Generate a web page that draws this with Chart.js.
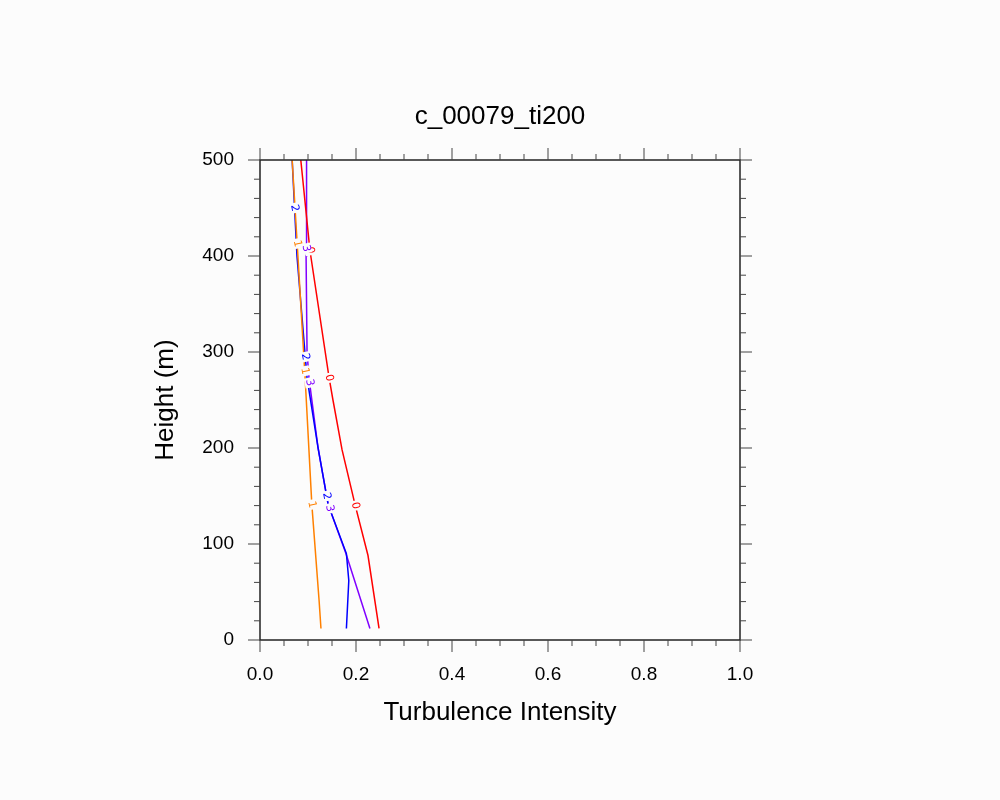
<!DOCTYPE html>
<html><head><meta charset="utf-8">
<script src="https://cdn.jsdelivr.net/npm/chart.js"></script>
<style>html,body{margin:0;background:#fcfcfc}#w{width:1000px;height:800px}</style>
</head><body><div id="w"><canvas id="c"></canvas></div>
<script>
const title = "c_00079_ti200";
const xTitle = "Turbulence Intensity";
const yTitle = "Height (m)";
const xTicks = [0.0,0.2,0.4,0.6,0.8,1.0];
const yTicks = [0,100,200,300,400,500];
const names = ["0","1","2","3"];
const colors = ["#ff0000","#ff8000","#0000ff","#8000ff"];
const heights0 = [12,88,141,198,250,273,406,500];
const ti0 = [0.248,0.225,0.198,0.171,0.152,0.144,0.104,0.085];
const heights1 = [12,42,141,273,400,500];
const ti1 = [0.127,0.123,0.108,0.094,0.079,0.067];
const heights2 = [12,62,90,141,200,273,400,500];
const ti2 = [0.180,0.185,0.180,0.142,0.121,0.098,0.077,0.067];
const heights3 = [12,90,141,200,273,300,400,500];
const ti3 = [0.229,0.179,0.142,0.121,0.102,0.098,0.096,0.097];
const labelHeights = [[140,273,406],[141,280,413],[150,295,450],[137,268,408]];
const H=[heights0,heights1,heights2,heights3], T=[ti0,ti1,ti2,ti3];
function interp(h,hs,ts){for(let i=0;i<hs.length-1;i++){if(h>=hs[i]&&h<=hs[i+1]){const f=(h-hs[i])/(hs[i+1]-hs[i]);return ts[i]+f*(ts[i+1]-ts[i]);}}return ts[ts.length-1];}
const datasets = names.map((n,i)=>({label:n,data:H[i].map((h,j)=>({x:T[i][j],y:h})),borderColor:colors[i],borderWidth:1.5,pointRadius:0,fill:false,tension:0}));
const deco = {id:'deco',afterDraw(ch){
 const c=ch.ctx,a=ch.chartArea,xs=ch.scales.x,ys=ch.scales.y;
 c.save();
 c.font='11px "DejaVu Sans"';c.textAlign='center';c.textBaseline='middle';
 names.forEach((n,i)=>labelHeights[i].forEach(h=>{const px=xs.getPixelForValue(interp(h,H[i],T[i]));const py=ys.getPixelForValue(h);
  c.save();c.translate(px,py);c.rotate(Math.PI/2-0.2);c.fillStyle='#fcfcfc';c.fillRect(-5,-5,10,10);c.fillStyle=colors[i];c.fillText(n,0,0);c.restore();}));
 c.strokeStyle='#222';c.lineWidth=1.5;c.strokeRect(a.left,a.top,a.right-a.left,a.bottom-a.top);
 c.lineWidth=1;c.strokeStyle='#444';
 for(let v=0;v<=1.0001;v+=0.05){const p=xs.getPixelForValue(v);const L=(Math.round(v*100)%20===0)?12:6;
  c.beginPath();c.moveTo(p,a.bottom);c.lineTo(p,a.bottom+L);c.moveTo(p,a.top);c.lineTo(p,a.top-L);c.stroke();}
 for(let v=0;v<=500;v+=20){const p=ys.getPixelForValue(v);const L=(v%100===0)?12:6;
  c.beginPath();c.moveTo(a.left,p);c.lineTo(a.left-L,p);c.moveTo(a.right,p);c.lineTo(a.right+L,p);c.stroke();}
 c.fillStyle='#000';c.font='19px "Liberation Sans"';
 c.textAlign='center';c.textBaseline='top';
 xTicks.forEach(v=>c.fillText(v.toFixed(1),xs.getPixelForValue(v),665));
 c.textAlign='right';c.textBaseline='middle';
 yTicks.forEach(v=>c.fillText(String(v),234,ys.getPixelForValue(v)));
 c.font='26px "Liberation Sans"';c.textAlign='center';c.textBaseline='middle';
 c.fillText(xTitle,(a.left+a.right)/2,713);
 c.fillText(title,(a.left+a.right)/2,117);
 c.save();c.translate(166,(a.top+a.bottom)/2);c.rotate(-Math.PI/2);c.fillText(yTitle,0,0);c.restore();
 c.restore();}};
new Chart(document.getElementById('c'),{type:'line',data:{datasets},
 options:{responsive:true,maintainAspectRatio:false,animation:false,
  layout:{padding:{left:260,right:260,top:160,bottom:160}},
  plugins:{legend:{display:false},tooltip:{enabled:false}},
  scales:{x:{type:'linear',min:0,max:1,display:false},y:{type:'linear',min:0,max:500,display:false}}},
 plugins:[deco]});
</script></body></html>
